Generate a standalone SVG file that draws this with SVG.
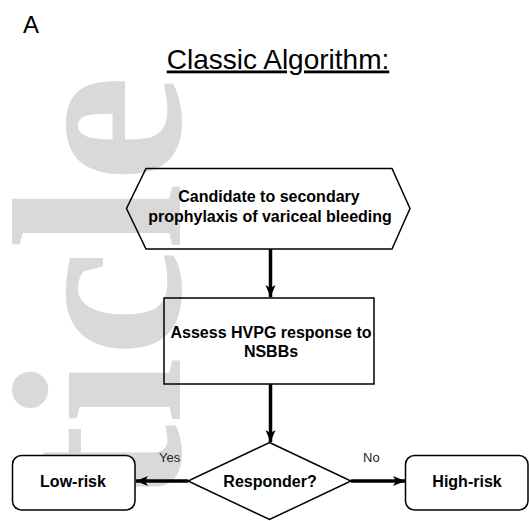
<svg xmlns="http://www.w3.org/2000/svg" width="529" height="521" viewBox="0 0 529 521">
<style>
.t{font-family:"Liberation Sans",Arial,sans-serif;fill:#000}
.b{font-weight:bold;font-size:16px;text-anchor:middle}
.shape{fill:none;stroke:#000;stroke-width:1.5}
.box{fill:#fff;stroke:#000;stroke-width:1.5}
.edge{stroke:#000;stroke-width:3.5;fill:none}
.lbl{font-size:13px;fill:#222}
</style>
<defs>
<marker id="ah" markerUnits="userSpaceOnUse" markerWidth="14" markerHeight="12" refX="12" refY="5" orient="auto">
<path d="M0,0 L12,5 L0,10 L3,5 Z" fill="#000"/>
</marker>
</defs>
<rect width="529" height="521" fill="#fff"/>
<text transform="translate(180,75) rotate(-90)" text-anchor="end" font-family="'Liberation Serif','Times New Roman',serif" font-weight="bold" font-size="242" fill="#d9d9d9">ticle</text>
<text class="t" x="23" y="33" font-size="24">A</text>
<text class="t" x="278" y="68.5" font-size="28" text-anchor="middle" text-decoration="underline">Classic Algorithm:</text>
<g id="edges">
<line class="edge" x1="270.5" y1="249" x2="270.5" y2="297" marker-end="url(#ah)"/>
<line class="edge" x1="270.5" y1="384" x2="270.5" y2="442" marker-end="url(#ah)"/>
<line class="edge" x1="188" y1="481" x2="136" y2="481" marker-end="url(#ah)"/>
<line class="edge" x1="351" y1="481" x2="405" y2="481" marker-end="url(#ah)"/>
<text class="t lbl" x="159" y="462">Yes</text>
<text class="t lbl" x="363" y="462">No</text>
</g>
<g id="start">
<polygon class="shape" points="146,168.5 392,168.5 410,208.5 392,249 146,249 126.5,208.5"/>
<text class="t b" x="269" y="202">Candidate to secondary</text>
<text class="t b" x="270" y="222">prophylaxis of variceal bleeding</text>
</g>
<g id="assess">
<rect class="shape" x="164" y="298" width="210" height="86"/>
<text class="t b" x="271" y="338">Assess HVPG response to</text>
<text class="t b" x="271" y="357">NSBBs</text>
</g>
<g id="responder">
<polygon class="shape" points="269.5,442.5 351,481 269.5,519.5 188,481"/>
<text class="t b" x="270" y="487">Responder?</text>
</g>
<g id="lowrisk">
<rect class="box" x="12.5" y="455.5" width="122.5" height="54.5" rx="9"/>
<text class="t b" x="73" y="487">Low-risk</text>
</g>
<g id="highrisk">
<rect class="box" x="405.5" y="455.5" width="122.5" height="54.5" rx="9"/>
<text class="t b" x="467" y="487">High-risk</text>
</g>
</svg>
